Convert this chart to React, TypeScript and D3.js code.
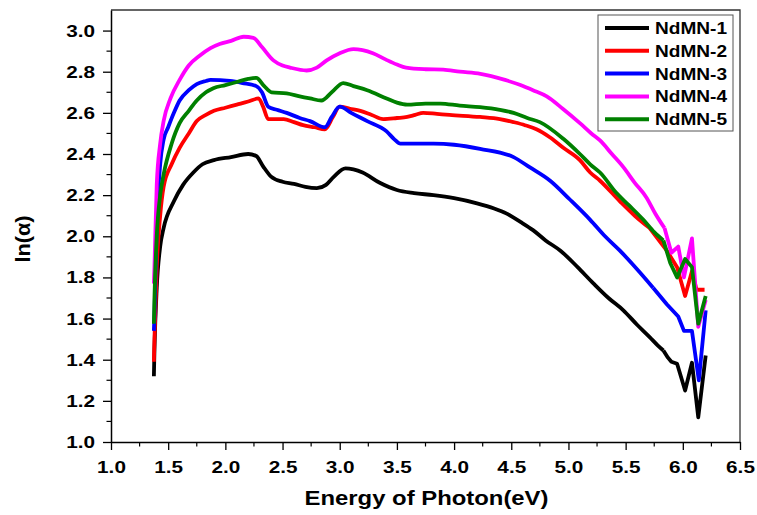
import React, { useEffect, useRef } from "react";
import * as d3 from "d3";

// energy (eV), ln(alpha)
const nd1: [number, number][] = [[1.375,1.32],[1.38,1.45],[1.40,1.75],[1.43,1.95],[1.46,2.04],[1.55,2.17],[1.63,2.25],[1.72,2.31],[1.80,2.35],[1.90,2.37],[2.05,2.385],[2.2,2.40],[2.27,2.39],[2.33,2.34],[2.40,2.29],[2.50,2.265],[2.6,2.255],[2.7,2.24],[2.80,2.234],[2.88,2.25],[2.95,2.29],[3.05,2.33],[3.12,2.325],[3.20,2.31],[3.35,2.26],[3.5,2.225],[3.65,2.21],[3.82,2.20],[4.0,2.185],[4.2,2.16],[4.35,2.135],[4.46,2.11],[4.58,2.07],[4.69,2.03],[4.8,1.98],[4.93,1.93],[5.08,1.85],[5.22,1.77],[5.35,1.70],[5.48,1.64],[5.6,1.57],[5.71,1.51],[5.78,1.47],[5.83,1.445],[5.87,1.41],[5.90,1.39],[5.95,1.38],[6.02,1.25],[6.08,1.385],[6.135,1.12],[6.20,1.42]];
const nd2: [number, number][] = [[1.375,1.39],[1.38,1.50],[1.40,1.85],[1.43,2.10],[1.46,2.24],[1.53,2.35],[1.60,2.43],[1.68,2.50],[1.75,2.56],[1.83,2.59],[1.90,2.61],[2.0,2.625],[2.10,2.64],[2.2,2.655],[2.29,2.67],[2.33,2.63],[2.375,2.57],[2.51,2.57],[2.6,2.555],[2.68,2.54],[2.78,2.53],[2.87,2.52],[2.94,2.58],[3.0,2.63],[3.09,2.62],[3.18,2.61],[3.28,2.59],[3.38,2.57],[3.5,2.575],[3.59,2.58],[3.66,2.59],[3.73,2.60],[3.85,2.595],[3.96,2.59],[4.227,2.58],[4.40,2.57],[4.52,2.555],[4.62,2.54],[4.72,2.52],[4.84,2.48],[4.955,2.43],[5.10,2.37],[5.19,2.31],[5.276,2.27],[5.45,2.17],[5.58,2.10],[5.71,2.04],[5.86,1.93],[5.95,1.85],[6.02,1.71],[6.08,1.83],[6.12,1.74],[6.19,1.74]];
const nd3: [number, number][] = [[1.375,1.54],[1.38,1.62],[1.40,2.05],[1.43,2.35],[1.46,2.47],[1.50,2.53],[1.55,2.60],[1.60,2.66],[1.68,2.71],[1.75,2.74],[1.83,2.755],[1.87,2.76],[2.04,2.755],[2.15,2.745],[2.27,2.73],[2.32,2.70],[2.375,2.63],[2.45,2.615],[2.536,2.60],[2.65,2.575],[2.74,2.56],[2.87,2.53],[2.93,2.58],[3.0,2.63],[3.1,2.60],[3.24,2.56],[3.41,2.51],[3.48,2.47],[3.53,2.45],[3.65,2.45],[3.82,2.45],[4.0,2.445],[4.227,2.425],[4.52,2.385],[4.66,2.336],[4.84,2.27],[5.01,2.18],[5.19,2.08],[5.32,2.00],[5.45,1.93],[5.60,1.84],[5.74,1.75],[5.86,1.67],[5.96,1.61],[6.01,1.54],[6.08,1.54],[6.14,1.30],[6.20,1.64]];
const nd4: [number, number][] = [[1.375,1.77],[1.38,1.85],[1.40,2.25],[1.43,2.45],[1.46,2.56],[1.52,2.67],[1.60,2.76],[1.68,2.83],[1.78,2.88],[1.87,2.915],[1.95,2.935],[2.05,2.95],[2.16,2.97],[2.245,2.965],[2.32,2.92],[2.42,2.855],[2.5,2.83],[2.565,2.82],[2.71,2.806],[2.8,2.82],[2.886,2.855],[3.0,2.89],[3.12,2.91],[3.20,2.905],[3.29,2.89],[3.4,2.86],[3.5,2.835],[3.58,2.82],[3.75,2.812],[3.905,2.81],[4.05,2.80],[4.23,2.79],[4.445,2.76],[4.58,2.735],[4.69,2.71],[4.81,2.68],[4.95,2.62],[5.10,2.55],[5.2,2.50],[5.276,2.466],[5.38,2.40],[5.48,2.336],[5.58,2.26],[5.68,2.19],[5.76,2.11],[5.84,2.04],[5.90,1.92],[5.96,1.95],[6.01,1.80],[6.08,1.99],[6.135,1.56],[6.20,1.69]];
const nd5: [number, number][] = [[1.375,1.575],[1.38,1.70],[1.40,2.0],[1.43,2.20],[1.46,2.30],[1.53,2.45],[1.60,2.55],[1.68,2.61],[1.75,2.66],[1.83,2.70],[1.895,2.72],[2.0,2.735],[2.10,2.75],[2.2,2.765],[2.27,2.77],[2.34,2.73],[2.405,2.70],[2.536,2.695],[2.65,2.68],[2.74,2.67],[2.84,2.66],[2.93,2.70],[3.03,2.745],[3.12,2.73],[3.24,2.71],[3.41,2.67],[3.5,2.65],[3.59,2.64],[3.75,2.645],[3.88,2.645],[4.05,2.635],[4.227,2.628],[4.40,2.615],[4.52,2.60],[4.64,2.575],[4.75,2.555],[4.955,2.474],[5.10,2.40],[5.19,2.35],[5.276,2.31],[5.42,2.21],[5.53,2.15],[5.655,2.08],[5.75,2.02],[5.83,1.98],[5.89,1.87],[5.95,1.80],[6.02,1.89],[6.08,1.85],[6.135,1.575],[6.20,1.71]];

const names = ["NdMN-1", "NdMN-2", "NdMN-3", "NdMN-4", "NdMN-5"];
const colors = ["#000000", "#ff0000", "#0000ff", "#ff00ff", "#008000"];
const seriesData = [nd1, nd2, nd3, nd4, nd5];

const xTicks = [1.0, 1.5, 2.0, 2.5, 3.0, 3.5, 4.0, 4.5, 5.0, 5.5, 6.0, 6.5];
const yTicks = [1.0, 1.2, 1.4, 1.6, 1.8, 2.0, 2.2, 2.4, 2.6, 2.8, 3.0];

// above this energy the data is noisy and drawn with straight segments
const noisyFrom = 5.84;

const W = 757;
const H = 515;
const m = { left: 111, right: 17, top: 10, bottom: 73 };

export default function App() {
  const ref = useRef<SVGSVGElement>(null);

  useEffect(() => {
    if (!ref.current) return;
    const svg = d3.select(ref.current);
    svg.selectAll("*").remove();

    const font = "'Liberation Sans', Arial, sans-serif";
    const x = d3.scaleLinear().domain([1.0, 6.5]).range([m.left, W - m.right]);
    const y = d3.scaleLinear().domain([1.0, 3.1]).range([H - m.bottom, m.top]);
    const x0 = m.left, x1 = W - m.right, y0 = H - m.bottom, y1 = m.top;

    // frame (top + right)
    svg.append("path")
      .attr("d", `M${x0},${y1}H${x1}V${y0}`)
      .attr("fill", "none")
      .attr("stroke", "#333")
      .attr("stroke-width", 1.3);

    // lines
    const smooth = d3.line<[number, number]>()
      .x((d) => x(d[0]))
      .y((d) => y(d[1]))
      .curve(d3.curveMonotoneX);
    const sharp = d3.line<[number, number]>()
      .x((d) => x(d[0]))
      .y((d) => y(d[1]));

    seriesData.forEach((s, i) => {
      const g = svg.append("g")
        .attr("fill", "none")
        .attr("stroke", colors[i])
        .attr("stroke-width", 3.8)
        .attr("stroke-linejoin", "round");
      const k = s.findIndex((d) => d[0] > noisyFrom);
      g.append("path").attr("d", smooth(s.slice(0, k)));
      g.append("path").attr("d", sharp(s.slice(k - 1)));
    });

    // x axis
    const xAxis = svg.append("g")
      .attr("transform", `translate(0,${y0})`)
      .call(d3.axisBottom(x).tickValues(xTicks).tickSize(8).tickSizeOuter(0).tickFormat(d3.format(".1f")));
    xAxis.append("g")
      .selectAll("line")
      .data(d3.range(1.25, 6.5, 0.5))
      .enter()
      .append("line")
      .attr("x1", (d) => x(d))
      .attr("x2", (d) => x(d))
      .attr("y1", 0)
      .attr("y2", 4.5)
      .attr("stroke", "#000")
      .attr("stroke-width", 1.2);

    // y axis
    const yAxis = svg.append("g")
      .attr("transform", `translate(${x0},0)`)
      .call(d3.axisLeft(y).tickValues(yTicks).tickSize(8).tickSizeOuter(0).tickFormat(d3.format(".1f")));
    yAxis.append("g")
      .selectAll("line")
      .data(d3.range(1.1, 3.1, 0.2))
      .enter()
      .append("line")
      .attr("x1", 0)
      .attr("x2", -4.5)
      .attr("y1", (d) => y(d))
      .attr("y2", (d) => y(d))
      .attr("stroke", "#000")
      .attr("stroke-width", 1.2);

    [xAxis, yAxis].forEach((g) => {
      g.select(".domain").attr("stroke", "#000").attr("stroke-width", 1.5);
      g.selectAll(".tick line").attr("stroke", "#000").attr("stroke-width", 1.3);
      g.selectAll("text")
        .attr("font-family", font)
        .attr("font-weight", "bold")
        .attr("font-size", 17)
        .attr("fill", "#000");
    });
    // the original lettering is a bit wider than Liberation Sans
    const sx = 1.22;
    xAxis.selectAll(".tick text")
      .attr("y", 31)
      .attr("dy", 0)
      .attr("transform", `scale(${sx},1)`);
    yAxis.selectAll(".tick text")
      .attr("x", -16 / sx)
      .attr("transform", `scale(${sx},1)`);

    // axis titles
    svg.append("text")
      .attr("x", (x0 + x1) / 2 + 1)
      .attr("y", 505)
      .attr("text-anchor", "middle")
      .attr("font-family", font)
      .attr("font-weight", "bold")
      .attr("font-size", 20)
      .attr("textLength", 244)
      .attr("lengthAdjust", "spacingAndGlyphs")
      .text("Energy of Photon(eV)");

    svg.append("text")
      .attr("transform", `translate(30,239) rotate(-90)`)
      .attr("text-anchor", "middle")
      .attr("font-family", font)
      .attr("font-weight", "bold")
      .attr("font-size", 20)
      .attr("textLength", 47)
      .attr("lengthAdjust", "spacingAndGlyphs")
      .text("ln(α)");

    // legend
    const lg = svg.append("g").attr("transform", "translate(598,15)");
    lg.append("rect")
      .attr("width", 135)
      .attr("height", 116)
      .attr("fill", "#fff")
      .attr("stroke", "#555")
      .attr("stroke-width", 1);
    names.forEach((n, i) => {
      const cy = 13 + i * 22.8;
      lg.append("line")
        .attr("x1", 7)
        .attr("x2", 51)
        .attr("y1", cy)
        .attr("y2", cy)
        .attr("stroke", colors[i])
        .attr("stroke-width", 4);
      lg.append("text")
        .attr("x", 57)
        .attr("y", cy + 6)
        .attr("font-family", font)
        .attr("font-weight", "bold")
        .attr("font-size", 17)
        .attr("textLength", 72)
        .attr("lengthAdjust", "spacingAndGlyphs")
        .text(n);
    });
  }, []);

  return (
    <svg
      ref={ref}
      width={W}
      height={H}
      style={{ position: "absolute", left: 0, top: 0, background: "#fff" }}
    />
  );
}
